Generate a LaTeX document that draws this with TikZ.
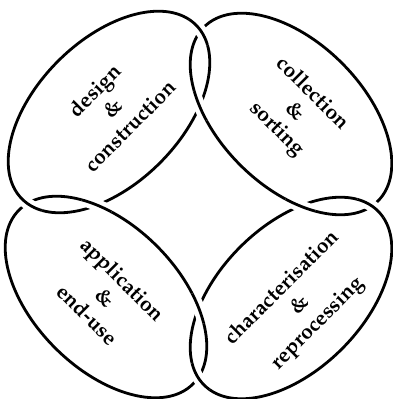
\documentclass[tikz,border=0pt]{standalone}
\usepackage[T1]{fontenc}
\usepackage{mathpazo}
\newcommand\overpass[3]{%
  \begin{scope}
    \clip (#3) circle (16);
    \draw[gapline, rotate around={#2:(#1)}] (#1) ellipse [x radius=123, y radius=72];
    \draw[ringline, rotate around={#2:(#1)}] (#1) ellipse [x radius=123, y radius=72];
  \end{scope}}
\begin{document}
\begin{tikzpicture}[x=1pt,y=1pt,
  ringline/.style={draw=black, line width=2.8pt},
  gapline/.style={draw=white, line width=12pt},
  ringtext/.style={align=center, font=\fontsize{21}{25}\selectfont\bfseries, inner sep=0pt}]
\fill[white] (0,0) rectangle (392,399);
\useasboundingbox (0,0) rectangle (392,399);
% ellipse centres
\coordinate (cTL) at (109,287);
\coordinate (cTR) at (291,285);
\coordinate (cBL) at (106,102);
\coordinate (cBR) at (291,101);
% crossing points
\coordinate (xTop) at (200.5,368.3);
\coordinate (xTopIn) at (199.5,292.8);
\coordinate (xLeft) at (27.5,195.4);
\coordinate (xLeftIn) at (97,194);
\coordinate (xRightIn) at (300,193);
\coordinate (xRight) at (372,193);
\coordinate (xBotIn) at (199,91);
\coordinate (xBot) at (198,21);
% rings
\draw[ringline, rotate around={45:(cTL)}] (cTL) ellipse [x radius=123, y radius=72];
\draw[ringline, rotate around={-45:(cTR)}] (cTR) ellipse [x radius=123, y radius=72];
\draw[ringline, rotate around={-45:(cBL)}] (cBL) ellipse [x radius=123, y radius=72];
\draw[ringline, rotate around={45:(cBR)}] (cBR) ellipse [x radius=123, y radius=72];
% over-crossings
\overpass{cTL}{45}{xTop}
\overpass{cTR}{-45}{xTopIn}
\overpass{cTL}{45}{xLeft}
\overpass{cBL}{-45}{xLeftIn}
\overpass{cTR}{-45}{xRightIn}
\overpass{cBR}{45}{xRight}
\overpass{cBL}{-45}{xBotIn}
\overpass{cBR}{45}{xBot}
% labels
\node[ringtext, rotate=45] (tltext) at (112,291) {design\\\&\\construction};
\node[ringtext, rotate=-45] (trtext) at (294,287) {collection\\\&\\sorting};
\node[ringtext, rotate=-45] (bltext) at (105,102) {application\\\&\\end-use};
\node[ringtext, rotate=45] (brtext) at (300,93) {characterisation\\\&\\reprocessing};
\end{tikzpicture}
\end{document}
